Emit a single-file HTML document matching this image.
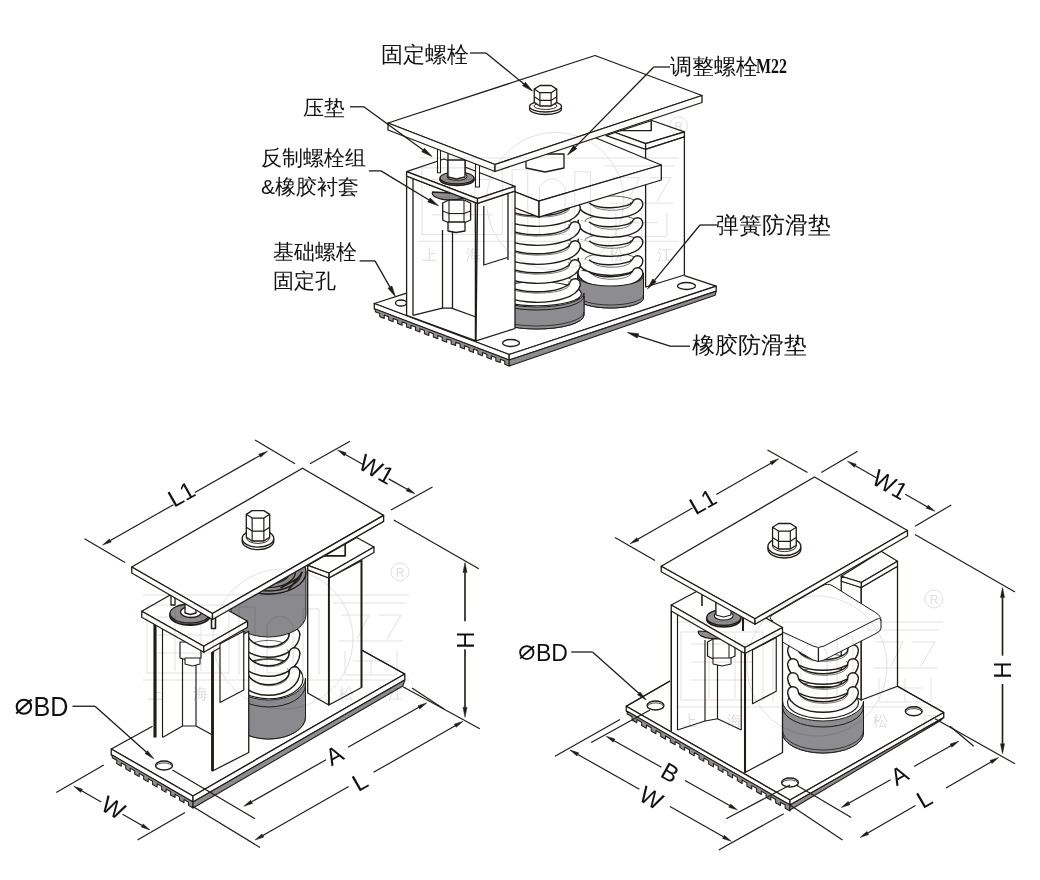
<!DOCTYPE html>
<html><head><meta charset="utf-8"><style>
html,body{margin:0;padding:0;background:#fff;}
svg{display:block;will-change:transform;}
</style></head><body>
<svg width="1040" height="880" viewBox="0 0 1040 880">
<rect width="1040" height="880" fill="#fff"/>
<polygon points="374.30,303.50 509.20,354.50 716.20,286.20 581.30,235.20" fill="#fff" stroke="none" stroke-width="1.30" stroke-linejoin="round" />
<polyline points="406.60,293.20 374.30,303.50 509.20,354.50 716.20,286.20 684.40,275.60" fill="none" stroke="#1f1b17" stroke-width="1.30" stroke-linejoin="round" />
<polygon points="374.30,303.50 509.20,354.50 509.20,360.00 374.30,309.00" fill="#fff" stroke="#1f1b17" stroke-width="1.30" stroke-linejoin="round" />
<polygon points="509.20,354.50 716.20,286.20 716.20,291.20 509.20,360.00" fill="#fff" stroke="#1f1b17" stroke-width="1.30" stroke-linejoin="round" />
<polygon points="375.30,309.00 509.20,360.00 509.20,366.00 509.20,366.00 504.74,364.30 504.74,361.00 500.27,359.30 500.27,362.60 495.81,360.90 495.81,357.60 491.35,355.90 491.35,359.20 486.88,357.50 486.88,354.20 482.42,352.50 482.42,355.80 477.96,354.10 477.96,350.80 473.49,349.10 473.49,352.40 469.03,350.70 469.03,347.40 464.57,345.70 464.57,349.00 460.10,347.30 460.10,344.00 455.64,342.30 455.64,345.60 451.18,343.90 451.18,340.60 446.71,338.90 446.71,342.20 442.25,340.50 442.25,337.20 437.79,335.50 437.79,338.80 433.32,337.10 433.32,333.80 428.86,332.10 428.86,335.40 424.40,333.70 424.40,330.40 419.93,328.70 419.93,332.00 415.47,330.30 415.47,327.00 411.01,325.30 411.01,328.60 406.54,326.90 406.54,323.60 402.08,321.90 402.08,325.20 397.62,323.50 397.62,320.20 393.15,318.50 393.15,321.80 388.69,320.10 388.69,316.80 384.23,315.10 384.23,318.40 379.76,316.70 379.76,313.40 375.30,311.70 375.30,311.70" fill="#8d8d91" stroke="#1f1b17" stroke-width="1.04" stroke-linejoin="round" />
<polygon points="509.20,360.00 716.20,291.20 715.20,295.20 509.20,366.00" fill="#8d8d91" stroke="#1f1b17" stroke-width="1.04" stroke-linejoin="round" />
<ellipse cx="401.00" cy="303.00" rx="5.50" ry="3.00" fill="#fff" stroke="#1f1b17" stroke-width="1.30"/>
<ellipse cx="511.00" cy="343.00" rx="8.50" ry="3.50" fill="#fff" stroke="#1f1b17" stroke-width="1.30"/>
<ellipse cx="686.50" cy="286.00" rx="9.00" ry="3.50" fill="#fff" stroke="#1f1b17" stroke-width="1.30"/>
<polygon points="615.00,132.50 645.60,143.70 684.40,131.90 651.90,120.50" fill="#fff" stroke="#1f1b17" stroke-width="1.30" stroke-linejoin="round" />
<polygon points="615.00,132.50 645.60,143.70 645.60,149.40 606.20,135.60" fill="#fff" stroke="#1f1b17" stroke-width="1.30" stroke-linejoin="round" />
<polygon points="645.60,143.70 684.40,131.90 684.40,136.90 645.60,149.40" fill="#fff" stroke="#1f1b17" stroke-width="1.30" stroke-linejoin="round" />
<polygon points="645.60,149.40 684.40,136.90 684.40,275.00 645.60,287.00" fill="#fff" stroke="#1f1b17" stroke-width="1.30" stroke-linejoin="round" />
<polyline points="620.00,130.60 651.25,130.60 651.25,120.60" fill="none" stroke="#1f1b17" stroke-width="1.43" stroke-linejoin="round" />
<path d="M577.5,273 L577.5,298 A33,10 0 0 0 643.5,298 L643.5,273 A33,10 0 0 1 577.5,273 Z" fill="#8d8d91" stroke="#1f1b17" stroke-width="1.0" stroke-linejoin="round" />
<ellipse cx="610.50" cy="273.75" rx="30.50" ry="8.00" fill="#fff" stroke="#1f1b17" stroke-width="1.17"/>
<path d="M584.5,203 A26,7.0 0 0 1 636.5,203" fill="none" stroke="#1f1b17" stroke-width="0.7" stroke-linejoin="round" />
<path d="M584.5,222 A26,7.0 0 0 1 636.5,222" fill="none" stroke="#1f1b17" stroke-width="0.7" stroke-linejoin="round" />
<path d="M584.5,241 A26,7.0 0 0 1 636.5,241" fill="none" stroke="#1f1b17" stroke-width="0.7" stroke-linejoin="round" />
<path d="M584.5,260 A26,7.0 0 0 1 636.5,260" fill="none" stroke="#1f1b17" stroke-width="0.7" stroke-linejoin="round" />
<path d="M584.5,272 A26,7.0 0 0 1 636.5,272" fill="none" stroke="#1f1b17" stroke-width="0.7" stroke-linejoin="round" />
<path d="M583.5,202 A27.0,10 0 0 0 637.5,204" fill="none" stroke="#1f1b17" stroke-width="12.0" stroke-linejoin="round" stroke-linecap="butt"/>
<circle cx="637.5" cy="204" r="6.0" fill="#1f1b17"/>
<path d="M583.5,202 A27.0,10 0 0 0 637.5,204" fill="none" stroke="#fff" stroke-width="9.2" stroke-linejoin="round" stroke-linecap="butt"/>
<circle cx="637.5" cy="204" r="4.6" fill="#fff"/>
<path d="M592.5,205.5 A18,6.0 0 0 0 630.5,202.0" fill="none" stroke="#1f1b17" stroke-width="0.6" stroke-linejoin="round" />
<path d="M583.5,221 A27.0,10 0 0 0 637.5,223" fill="none" stroke="#1f1b17" stroke-width="12.0" stroke-linejoin="round" stroke-linecap="butt"/>
<circle cx="637.5" cy="223" r="6.0" fill="#1f1b17"/>
<path d="M583.5,221 A27.0,10 0 0 0 637.5,223" fill="none" stroke="#fff" stroke-width="9.2" stroke-linejoin="round" stroke-linecap="butt"/>
<circle cx="637.5" cy="223" r="4.6" fill="#fff"/>
<path d="M592.5,224.5 A18,6.0 0 0 0 630.5,221.0" fill="none" stroke="#1f1b17" stroke-width="0.6" stroke-linejoin="round" />
<path d="M583.5,240 A27.0,10 0 0 0 637.5,242" fill="none" stroke="#1f1b17" stroke-width="12.0" stroke-linejoin="round" stroke-linecap="butt"/>
<circle cx="637.5" cy="242" r="6.0" fill="#1f1b17"/>
<path d="M583.5,240 A27.0,10 0 0 0 637.5,242" fill="none" stroke="#fff" stroke-width="9.2" stroke-linejoin="round" stroke-linecap="butt"/>
<circle cx="637.5" cy="242" r="4.6" fill="#fff"/>
<path d="M592.5,243.5 A18,6.0 0 0 0 630.5,240.0" fill="none" stroke="#1f1b17" stroke-width="0.6" stroke-linejoin="round" />
<path d="M583.5,259 A27.0,10 0 0 0 637.5,261" fill="none" stroke="#1f1b17" stroke-width="12.0" stroke-linejoin="round" stroke-linecap="butt"/>
<circle cx="637.5" cy="261" r="6.0" fill="#1f1b17"/>
<path d="M583.5,259 A27.0,10 0 0 0 637.5,261" fill="none" stroke="#fff" stroke-width="9.2" stroke-linejoin="round" stroke-linecap="butt"/>
<circle cx="637.5" cy="261" r="4.6" fill="#fff"/>
<path d="M592.5,262.5 A18,6.0 0 0 0 630.5,259.0" fill="none" stroke="#1f1b17" stroke-width="0.6" stroke-linejoin="round" />
<path d="M583.5,271 A27.0,10 0 0 0 637.5,273" fill="none" stroke="#1f1b17" stroke-width="12.0" stroke-linejoin="round" stroke-linecap="butt"/>
<circle cx="637.5" cy="273" r="6.0" fill="#1f1b17"/>
<path d="M583.5,271 A27.0,10 0 0 0 637.5,273" fill="none" stroke="#fff" stroke-width="9.2" stroke-linejoin="round" stroke-linecap="butt"/>
<circle cx="637.5" cy="273" r="4.6" fill="#fff"/>
<path d="M592.5,274.5 A18,6.0 0 0 0 630.5,271.0" fill="none" stroke="#1f1b17" stroke-width="0.6" stroke-linejoin="round" />
<path d="M577.5,276 A33,10 0 0 0 643.5,276 L643.5,298 A33,10 0 0 1 577.5,298 Z" fill="#8d8d91" stroke="#1f1b17" stroke-width="1.0" stroke-linejoin="round" />
<path d="M577.5,295 A33,10 0 0 0 643.5,295" fill="none" stroke="#1f1b17" stroke-width="0.8" stroke-linejoin="round" />
<path d="M490,293 L490,315 A47,14 0 0 0 584,315 L584,293 A47,14 0 0 1 490,293 Z" fill="#8d8d91" stroke="#1f1b17" stroke-width="1.0" stroke-linejoin="round" />
<ellipse cx="537.00" cy="293.75" rx="44.50" ry="12.00" fill="#fff" stroke="#1f1b17" stroke-width="1.17"/>
<path d="M500,207 A37,9.799999999999999 0 0 1 574,207" fill="none" stroke="#1f1b17" stroke-width="0.7" stroke-linejoin="round" />
<path d="M500,226 A37,9.799999999999999 0 0 1 574,226" fill="none" stroke="#1f1b17" stroke-width="0.7" stroke-linejoin="round" />
<path d="M500,245 A37,9.799999999999999 0 0 1 574,245" fill="none" stroke="#1f1b17" stroke-width="0.7" stroke-linejoin="round" />
<path d="M500,264 A37,9.799999999999999 0 0 1 574,264" fill="none" stroke="#1f1b17" stroke-width="0.7" stroke-linejoin="round" />
<path d="M500,283 A37,9.799999999999999 0 0 1 574,283" fill="none" stroke="#1f1b17" stroke-width="0.7" stroke-linejoin="round" />
<path d="M499.0,206 A38.0,14 0 0 0 575.0,208" fill="none" stroke="#1f1b17" stroke-width="12.0" stroke-linejoin="round" stroke-linecap="butt"/>
<circle cx="575.0" cy="208" r="6.0" fill="#1f1b17"/>
<path d="M499.0,206 A38.0,14 0 0 0 575.0,208" fill="none" stroke="#fff" stroke-width="9.2" stroke-linejoin="round" stroke-linecap="butt"/>
<circle cx="575.0" cy="208" r="4.6" fill="#fff"/>
<path d="M508,210.9 A29,8.4 0 0 0 568,205.2" fill="none" stroke="#1f1b17" stroke-width="0.6" stroke-linejoin="round" />
<path d="M499.0,225 A38.0,14 0 0 0 575.0,227" fill="none" stroke="#1f1b17" stroke-width="12.0" stroke-linejoin="round" stroke-linecap="butt"/>
<circle cx="575.0" cy="227" r="6.0" fill="#1f1b17"/>
<path d="M499.0,225 A38.0,14 0 0 0 575.0,227" fill="none" stroke="#fff" stroke-width="9.2" stroke-linejoin="round" stroke-linecap="butt"/>
<circle cx="575.0" cy="227" r="4.6" fill="#fff"/>
<path d="M508,229.9 A29,8.4 0 0 0 568,224.2" fill="none" stroke="#1f1b17" stroke-width="0.6" stroke-linejoin="round" />
<path d="M499.0,244 A38.0,14 0 0 0 575.0,246" fill="none" stroke="#1f1b17" stroke-width="12.0" stroke-linejoin="round" stroke-linecap="butt"/>
<circle cx="575.0" cy="246" r="6.0" fill="#1f1b17"/>
<path d="M499.0,244 A38.0,14 0 0 0 575.0,246" fill="none" stroke="#fff" stroke-width="9.2" stroke-linejoin="round" stroke-linecap="butt"/>
<circle cx="575.0" cy="246" r="4.6" fill="#fff"/>
<path d="M508,248.9 A29,8.4 0 0 0 568,243.2" fill="none" stroke="#1f1b17" stroke-width="0.6" stroke-linejoin="round" />
<path d="M499.0,263 A38.0,14 0 0 0 575.0,265" fill="none" stroke="#1f1b17" stroke-width="12.0" stroke-linejoin="round" stroke-linecap="butt"/>
<circle cx="575.0" cy="265" r="6.0" fill="#1f1b17"/>
<path d="M499.0,263 A38.0,14 0 0 0 575.0,265" fill="none" stroke="#fff" stroke-width="9.2" stroke-linejoin="round" stroke-linecap="butt"/>
<circle cx="575.0" cy="265" r="4.6" fill="#fff"/>
<path d="M508,267.9 A29,8.4 0 0 0 568,262.2" fill="none" stroke="#1f1b17" stroke-width="0.6" stroke-linejoin="round" />
<path d="M499.0,282 A38.0,14 0 0 0 575.0,284" fill="none" stroke="#1f1b17" stroke-width="12.0" stroke-linejoin="round" stroke-linecap="butt"/>
<circle cx="575.0" cy="284" r="6.0" fill="#1f1b17"/>
<path d="M499.0,282 A38.0,14 0 0 0 575.0,284" fill="none" stroke="#fff" stroke-width="9.2" stroke-linejoin="round" stroke-linecap="butt"/>
<circle cx="575.0" cy="284" r="4.6" fill="#fff"/>
<path d="M508,286.9 A29,8.4 0 0 0 568,281.2" fill="none" stroke="#1f1b17" stroke-width="0.6" stroke-linejoin="round" />
<path d="M490,296 A47,14 0 0 0 584,296 L584,315 A47,14 0 0 1 490,315 Z" fill="#8d8d91" stroke="#1f1b17" stroke-width="1.0" stroke-linejoin="round" />
<path d="M490,312 A47,14 0 0 0 584,312" fill="none" stroke="#1f1b17" stroke-width="0.8" stroke-linejoin="round" />
<polygon points="500.00,186.00 538.80,201.20 661.30,165.00 596.00,138.00 540.00,117.00" fill="#fff" stroke="none" stroke-width="1.30" stroke-linejoin="round" />
<polyline points="500.00,186.00 538.80,201.20 661.30,165.00 596.00,138.00" fill="none" stroke="#1f1b17" stroke-width="1.30" stroke-linejoin="round" />
<polygon points="538.80,201.20 661.30,165.00 661.30,180.00 538.80,217.20" fill="#fff" stroke="#1f1b17" stroke-width="1.30" stroke-linejoin="round" />
<polygon points="500.00,186.00 538.80,201.20 538.80,217.20 500.00,202.00" fill="#fff" stroke="#1f1b17" stroke-width="1.30" stroke-linejoin="round" />
<polygon points="526.00,154.00 564.00,154.00 564.00,168.00 545.00,172.00 526.00,168.00" fill="#fff" stroke="#1f1b17" stroke-width="1.30" stroke-linejoin="round" />
<polygon points="406.60,176.00 477.50,203.40 476.00,340.80 406.60,315.40" fill="#fff" stroke="#1f1b17" stroke-width="1.30" stroke-linejoin="round" />
<polygon points="477.50,203.40 515.00,191.00 515.00,328.50 476.00,340.80" fill="#fff" stroke="#1f1b17" stroke-width="1.30" stroke-linejoin="round" />
<line x1="413.00" y1="178.00" x2="413.00" y2="315.40" stroke="#1f1b17" stroke-width="1.30"/>
<line x1="475.40" y1="202.60" x2="475.40" y2="340.00" stroke="#1f1b17" stroke-width="1.30"/>
<polyline points="413.00,315.40 442.30,308.20 451.50,308.20 476.00,317.00" fill="none" stroke="#1f1b17" stroke-width="1.30" stroke-linejoin="round" />
<line x1="442.50" y1="230.00" x2="442.50" y2="308.20" stroke="#1f1b17" stroke-width="1.30"/>
<line x1="452.50" y1="230.00" x2="452.50" y2="308.20" stroke="#1f1b17" stroke-width="1.30"/>
<line x1="508.00" y1="193.50" x2="508.00" y2="260.00" stroke="#1f1b17" stroke-width="1.30"/>
<polyline points="483.80,206.00 483.80,265.00 507.50,257.50" fill="none" stroke="#1f1b17" stroke-width="1.30" stroke-linejoin="round" />
<path d="M432.5,192 A18,7 0 0 0 468.5,194 Z" fill="#8e8e92" stroke="#1f1b17" stroke-width="1.3" stroke-linejoin="round" />
<polygon points="442.70,203.00 449.00,200.00 464.00,200.00 470.60,203.00 470.60,220.00 464.00,223.00 449.00,223.00 442.70,220.00" fill="#fff" stroke="#1f1b17" stroke-width="1.30" stroke-linejoin="round" />
<line x1="449.00" y1="200.00" x2="449.00" y2="223.00" stroke="#1f1b17" stroke-width="1.04"/>
<line x1="464.00" y1="200.00" x2="464.00" y2="223.00" stroke="#1f1b17" stroke-width="1.04"/>
<polyline points="442.70,211.00 449.00,213.50 464.00,213.50 470.60,211.00" fill="none" stroke="#1f1b17" stroke-width="1.04" stroke-linejoin="round" />
<polygon points="448.00,222.00 465.00,222.00 465.00,231.00 456.00,232.50 448.00,231.00" fill="#fff" stroke="#1f1b17" stroke-width="1.30" stroke-linejoin="round" />
<polygon points="406.60,171.60 477.50,198.60 515.00,186.30 444.00,159.00" fill="#fff" stroke="#1f1b17" stroke-width="1.30" stroke-linejoin="round" />
<polygon points="406.60,171.60 477.50,198.60 477.50,203.40 406.60,176.10" fill="#fff" stroke="#1f1b17" stroke-width="1.30" stroke-linejoin="round" />
<polygon points="477.50,198.60 515.00,186.30 515.00,191.10 477.50,203.40" fill="#fff" stroke="#1f1b17" stroke-width="1.30" stroke-linejoin="round" />
<polygon points="448.00,150.00 465.00,150.00 465.00,178.00 448.00,178.00" fill="#fff" stroke="#1f1b17" stroke-width="1.30" stroke-linejoin="round" />
<ellipse cx="457.00" cy="179.50" rx="17.00" ry="6.00" fill="#8e8e92" stroke="#1f1b17" stroke-width="1.69"/>
<ellipse cx="457.00" cy="178.00" rx="17.00" ry="6.00" fill="#8e8e92" stroke="#1f1b17" stroke-width="1.30"/>
<ellipse cx="457.00" cy="176.50" rx="10.00" ry="3.80" fill="#fff" stroke="#1f1b17" stroke-width="1.04"/>
<polygon points="448.00,160.00 465.00,160.00 465.00,177.00 456.50,179.00 448.00,177.00" fill="#fff" stroke="#1f1b17" stroke-width="1.30" stroke-linejoin="round" />
<polygon points="437.50,148.00 440.50,148.00 440.50,172.70 437.50,172.70" fill="#fff" stroke="#1f1b17" stroke-width="1.04" stroke-linejoin="round" />
<polygon points="475.50,160.00 479.50,160.00 479.50,187.00 475.50,187.00" fill="#fff" stroke="#1f1b17" stroke-width="1.04" stroke-linejoin="round" />
<polygon points="388.00,123.00 495.00,164.50 702.00,95.50 595.00,55.50" fill="#fff" stroke="#1f1b17" stroke-width="1.30" stroke-linejoin="round" />
<polygon points="388.00,123.00 495.00,164.50 495.00,171.50 388.00,130.00" fill="#fff" stroke="#1f1b17" stroke-width="1.30" stroke-linejoin="round" />
<polygon points="495.00,164.50 702.00,95.50 702.00,102.50 495.00,171.50" fill="#fff" stroke="#1f1b17" stroke-width="1.30" stroke-linejoin="round" />
<ellipse cx="545.50" cy="109.00" rx="16.00" ry="5.50" fill="#fff" stroke="#1f1b17" stroke-width="1.30"/>
<ellipse cx="545.50" cy="106.50" rx="16.00" ry="5.50" fill="#fff" stroke="#1f1b17" stroke-width="1.30"/>
<ellipse cx="545.50" cy="106.00" rx="11.52" ry="3.41" fill="#fff" stroke="#1f1b17" stroke-width="0.91"/>
<polygon points="534.25,89.10 539.88,85.50 551.12,85.50 556.75,89.10 556.75,102.40 551.12,106.00 539.88,106.00 534.25,102.40" fill="#fff" stroke="#1f1b17" stroke-width="1.30" stroke-linejoin="round" />
<polyline points="534.25,89.10 539.88,92.70 551.12,92.70 556.75,89.10" fill="none" stroke="#1f1b17" stroke-width="1.17" stroke-linejoin="round" />
<line x1="539.88" y1="92.70" x2="539.88" y2="106.00" stroke="#1f1b17" stroke-width="1.17"/>
<line x1="551.12" y1="92.70" x2="551.12" y2="106.00" stroke="#1f1b17" stroke-width="1.17"/>
<polyline points="534.25,96.78 539.88,100.38 551.12,100.38 556.75,96.78" fill="none" stroke="#1f1b17" stroke-width="1.17" stroke-linejoin="round" />
<text x="381" y="62" font-size="21.5" text-anchor="start" font-family="'Liberation Sans', sans-serif" fill="#111" stroke="#fff" stroke-width="0" >固定螺栓</text>
<polyline points="470.00,53.00 486.00,53.00" fill="none" stroke="#1f1b17" stroke-width="1.30" stroke-linejoin="round" />
<line x1="486.00" y1="53.00" x2="523.98" y2="84.04" stroke="#1f1b17" stroke-width="1.30"/>
<polygon points="532.50,91.00 522.59,85.74 525.37,82.34" fill="#1f1b17" stroke="#1f1b17" stroke-width="0.65" stroke-linejoin="round" />
<text x="302.5" y="114.5" font-size="21" text-anchor="start" font-family="'Liberation Sans', sans-serif" fill="#111" stroke="#fff" stroke-width="0" >压垫</text>
<polyline points="350.00,106.80 363.80,106.80" fill="none" stroke="#1f1b17" stroke-width="1.30" stroke-linejoin="round" />
<line x1="363.80" y1="106.80" x2="423.11" y2="150.02" stroke="#1f1b17" stroke-width="1.30"/>
<polygon points="432.00,156.50 421.81,151.80 424.41,148.24" fill="#1f1b17" stroke="#1f1b17" stroke-width="0.65" stroke-linejoin="round" />
<text x="261" y="164.5" font-size="21" text-anchor="start" font-family="'Liberation Sans', sans-serif" fill="#111" stroke="#fff" stroke-width="0" >反制螺栓组</text>
<text x="261" y="193.5" font-size="21" text-anchor="start" font-family="'Liberation Sans', sans-serif" fill="#111" stroke="#fff" stroke-width="0" >&amp;橡胶衬套</text>
<polyline points="368.80,170.90 381.00,170.90" fill="none" stroke="#1f1b17" stroke-width="1.30" stroke-linejoin="round" />
<line x1="381.00" y1="170.90" x2="428.99" y2="200.00" stroke="#1f1b17" stroke-width="1.30"/>
<polygon points="438.40,205.70 427.85,201.88 430.13,198.12" fill="#1f1b17" stroke="#1f1b17" stroke-width="0.65" stroke-linejoin="round" />
<text x="272.7" y="259" font-size="21" text-anchor="start" font-family="'Liberation Sans', sans-serif" fill="#111" stroke="#fff" stroke-width="0" >基础螺栓</text>
<text x="272.7" y="287.5" font-size="21" text-anchor="start" font-family="'Liberation Sans', sans-serif" fill="#111" stroke="#fff" stroke-width="0" >固定孔</text>
<polyline points="359.60,260.90 375.00,260.90" fill="none" stroke="#1f1b17" stroke-width="1.30" stroke-linejoin="round" />
<line x1="375.00" y1="260.90" x2="389.95" y2="287.14" stroke="#1f1b17" stroke-width="1.30"/>
<polygon points="395.40,296.70 388.04,288.23 391.87,286.05" fill="#1f1b17" stroke="#1f1b17" stroke-width="0.65" stroke-linejoin="round" />
<text x="670" y="73.5" font-size="21.5" text-anchor="start" font-family="'Liberation Sans', sans-serif" fill="#111" stroke="#fff" stroke-width="0" >调整螺栓</text>
<text x="756" y="72.5" font-size="21" font-weight="bold" fill="#111" font-family="'Liberation Serif', serif" textLength="31" lengthAdjust="spacingAndGlyphs">M22</text>
<polyline points="670.00,67.00 653.80,67.00" fill="none" stroke="#1f1b17" stroke-width="1.30" stroke-linejoin="round" />
<line x1="653.80" y1="67.00" x2="575.20" y2="147.15" stroke="#1f1b17" stroke-width="1.30"/>
<polygon points="567.50,155.00 573.63,145.61 576.77,148.69" fill="#1f1b17" stroke="#1f1b17" stroke-width="0.65" stroke-linejoin="round" />
<text x="716" y="232.5" font-size="22.5" text-anchor="start" font-family="'Liberation Sans', sans-serif" fill="#111" stroke="#fff" stroke-width="0" >弹簧防滑垫</text>
<polyline points="717.00,225.00 700.00,225.00" fill="none" stroke="#1f1b17" stroke-width="1.30" stroke-linejoin="round" />
<line x1="700.00" y1="225.00" x2="654.49" y2="280.31" stroke="#1f1b17" stroke-width="1.30"/>
<polygon points="647.50,288.80 652.79,278.91 656.19,281.70" fill="#1f1b17" stroke="#1f1b17" stroke-width="0.65" stroke-linejoin="round" />
<text x="691.5" y="353" font-size="22.5" text-anchor="start" font-family="'Liberation Sans', sans-serif" fill="#111" stroke="#fff" stroke-width="0" >橡胶防滑垫</text>
<polyline points="690.00,346.20 670.00,346.20" fill="none" stroke="#1f1b17" stroke-width="1.30" stroke-linejoin="round" />
<line x1="670.00" y1="346.20" x2="637.97" y2="335.87" stroke="#1f1b17" stroke-width="1.30"/>
<polygon points="627.50,332.50 638.64,333.78 637.29,337.97" fill="#1f1b17" stroke="#1f1b17" stroke-width="0.65" stroke-linejoin="round" />
<polygon points="111.25,749.00 193.00,796.00 404.80,674.00 323.05,627.00" fill="#fff" stroke="none" stroke-width="1.30" stroke-linejoin="round" />
<polyline points="152.50,726.25 111.25,749.00 193.00,796.00 404.80,674.00 361.50,650.00" fill="none" stroke="#1f1b17" stroke-width="1.30" stroke-linejoin="round" />
<polygon points="111.25,749.00 193.00,796.00 193.00,802.00 111.25,755.00" fill="#fff" stroke="#1f1b17" stroke-width="1.30" stroke-linejoin="round" />
<polygon points="193.00,796.00 404.80,674.00 404.80,680.00 193.00,802.00" fill="#fff" stroke="#1f1b17" stroke-width="1.30" stroke-linejoin="round" />
<polygon points="112.25,755.00 193.00,802.00 193.00,808.00 193.00,808.00 188.51,805.39 188.51,802.09 184.03,799.48 184.03,802.78 179.54,800.17 179.54,796.87 175.06,794.26 175.06,797.56 170.57,794.94 170.57,791.64 166.08,789.03 166.08,792.33 161.60,789.72 161.60,786.42 157.11,783.81 157.11,787.11 152.62,784.50 152.62,781.20 148.14,778.59 148.14,781.89 143.65,779.28 143.65,775.98 139.17,773.37 139.17,776.67 134.68,774.06 134.68,770.76 130.19,768.14 130.19,771.44 125.71,768.83 125.71,765.53 121.22,762.92 121.22,766.22 116.74,763.61 116.74,760.31 112.25,757.70 112.25,757.70" fill="#8d8d91" stroke="#1f1b17" stroke-width="1.04" stroke-linejoin="round" />
<polygon points="193.00,802.00 404.80,680.00 402.80,686.00 193.00,808.00" fill="#8d8d91" stroke="#1f1b17" stroke-width="1.04" stroke-linejoin="round" />
<ellipse cx="164.00" cy="765.50" rx="8.50" ry="4.50" fill="#fff" stroke="#1f1b17" stroke-width="1.30"/>
<path d="M156,766.5 A8,3.6 0 0 1 172,766.5" fill="none" stroke="#1f1b17" stroke-width="0.8" stroke-linejoin="round" />
<polygon points="307.70,570.00 328.85,578.00 328.85,705.00 307.70,693.00" fill="#fff" stroke="#1f1b17" stroke-width="1.30" stroke-linejoin="round" />
<polygon points="328.85,578.00 361.50,560.60 361.50,687.50 328.85,705.00" fill="#fff" stroke="#1f1b17" stroke-width="1.30" stroke-linejoin="round" />
<line x1="328.85" y1="578.00" x2="328.85" y2="705.00" stroke="#1f1b17" stroke-width="1.82"/>
<line x1="361.50" y1="556.00" x2="361.50" y2="687.50" stroke="#1f1b17" stroke-width="1.82"/>
<line x1="361.50" y1="650.00" x2="404.80" y2="674.00" stroke="#1f1b17" stroke-width="1.17"/>
<polygon points="307.70,565.40 328.85,573.00 374.00,547.00 356.70,537.50" fill="#fff" stroke="#1f1b17" stroke-width="1.30" stroke-linejoin="round" />
<polygon points="328.85,573.00 374.00,547.00 374.00,552.50 328.85,578.00" fill="#fff" stroke="#1f1b17" stroke-width="1.30" stroke-linejoin="round" />
<polygon points="307.70,565.40 328.85,573.00 328.85,578.00 307.70,569.90" fill="#fff" stroke="#1f1b17" stroke-width="1.30" stroke-linejoin="round" />
<polyline points="323.00,555.80 345.20,555.80 345.20,543.30" fill="none" stroke="#1f1b17" stroke-width="1.69" stroke-linejoin="round" />
<clipPath id="clipBL"><rect x="213" y="500" width="120" height="260"/></clipPath><g clip-path="url(#clipBL)">
<path d="M231.5,678 L231.5,717 A37,22 0 0 0 305.5,717 L305.5,678 A37,22 0 0 1 231.5,678 Z" fill="#8a8a8e" stroke="#1f1b17" stroke-width="1.0" stroke-linejoin="round" />
<ellipse cx="268.50" cy="678.75" rx="34.50" ry="20.00" fill="#fff" stroke="#1f1b17" stroke-width="1.17"/>
<path d="M243.5,634 A25,12.6 0 0 1 293.5,634" fill="none" stroke="#1f1b17" stroke-width="0.7" stroke-linejoin="round" />
<path d="M243.5,653 A25,12.6 0 0 1 293.5,653" fill="none" stroke="#1f1b17" stroke-width="0.7" stroke-linejoin="round" />
<path d="M243.5,672 A25,12.6 0 0 1 293.5,672" fill="none" stroke="#1f1b17" stroke-width="0.7" stroke-linejoin="round" />
<path d="M242.5,634 A26.0,18 0 0 0 294.5,634" fill="none" stroke="#1f1b17" stroke-width="12.0" stroke-linejoin="round" stroke-linecap="butt"/>
<circle cx="294.5" cy="634" r="6.0" fill="#1f1b17"/>
<path d="M242.5,634 A26.0,18 0 0 0 294.5,634" fill="none" stroke="#fff" stroke-width="9.2" stroke-linejoin="round" stroke-linecap="butt"/>
<circle cx="294.5" cy="634" r="4.6" fill="#fff"/>
<path d="M251.5,640.3 A17,10.799999999999999 0 0 0 287.5,630.4" fill="none" stroke="#1f1b17" stroke-width="0.6" stroke-linejoin="round" />
<path d="M242.5,653 A26.0,18 0 0 0 294.5,653" fill="none" stroke="#1f1b17" stroke-width="12.0" stroke-linejoin="round" stroke-linecap="butt"/>
<circle cx="294.5" cy="653" r="6.0" fill="#1f1b17"/>
<path d="M242.5,653 A26.0,18 0 0 0 294.5,653" fill="none" stroke="#fff" stroke-width="9.2" stroke-linejoin="round" stroke-linecap="butt"/>
<circle cx="294.5" cy="653" r="4.6" fill="#fff"/>
<path d="M251.5,659.3 A17,10.799999999999999 0 0 0 287.5,649.4" fill="none" stroke="#1f1b17" stroke-width="0.6" stroke-linejoin="round" />
<path d="M242.5,672 A26.0,18 0 0 0 294.5,672" fill="none" stroke="#1f1b17" stroke-width="12.0" stroke-linejoin="round" stroke-linecap="butt"/>
<circle cx="294.5" cy="672" r="6.0" fill="#1f1b17"/>
<path d="M242.5,672 A26.0,18 0 0 0 294.5,672" fill="none" stroke="#fff" stroke-width="9.2" stroke-linejoin="round" stroke-linecap="butt"/>
<circle cx="294.5" cy="672" r="4.6" fill="#fff"/>
<path d="M251.5,678.3 A17,10.799999999999999 0 0 0 287.5,668.4" fill="none" stroke="#1f1b17" stroke-width="0.6" stroke-linejoin="round" />
<path d="M231.5,685 A37,22 0 0 0 305.5,685 L305.5,717 A37,22 0 0 1 231.5,717 Z" fill="#8a8a8e" stroke="#1f1b17" stroke-width="1.0" stroke-linejoin="round" />
<path d="M231.0,572 L231.0,615 A37.5,22 0 0 0 306.0,615 L306.0,572 A37.5,22 0 0 1 231.0,572 Z" fill="#8a8a8e" stroke="#1f1b17" stroke-width="1.0" stroke-linejoin="round" />
<ellipse cx="268.50" cy="572.00" rx="37.50" ry="22.00" fill="#8a8a8e" stroke="#1f1b17" stroke-width="1.30"/>
<path d="M235.5,572 A33,19 0 0 0 301.5,572" fill="none" stroke="#1f1b17" stroke-width="1.3" stroke-linejoin="round" />
<path d="M241.5,572 A27,15.5 0 0 0 295.5,572" fill="none" stroke="#1f1b17" stroke-width="1.3" stroke-linejoin="round" />
<path d="M247.5,572 A21,12 0 0 0 289.5,572" fill="none" stroke="#1f1b17" stroke-width="1.3" stroke-linejoin="round" />
<path d="M253.5,572 A15,8.5 0 0 0 283.5,572" fill="none" stroke="#1f1b17" stroke-width="1.3" stroke-linejoin="round" />
<line x1="280.50" y1="588.00" x2="298.50" y2="578.00" stroke="#1f1b17" stroke-width="1.56"/>
<line x1="288.50" y1="590.00" x2="302.50" y2="572.00" stroke="#1f1b17" stroke-width="1.56"/>
</g>
<polygon points="212.50,652.00 248.75,631.25 248.75,752.50 212.50,771.00" fill="#fff" stroke="#1f1b17" stroke-width="1.30" stroke-linejoin="round" />
<line x1="212.50" y1="652.00" x2="212.50" y2="771.00" stroke="#1f1b17" stroke-width="2.86"/>
<polygon points="220.00,643.75 243.75,631.25 243.75,690.00 220.00,702.50" fill="#fff" stroke="#1f1b17" stroke-width="1.17" stroke-linejoin="round" />
<line x1="155.00" y1="617.00" x2="155.00" y2="737.50" stroke="#1f1b17" stroke-width="3.12"/>
<line x1="162.50" y1="620.00" x2="162.50" y2="737.00" stroke="#1f1b17" stroke-width="1.17"/>
<line x1="182.50" y1="652.00" x2="182.50" y2="726.00" stroke="#1f1b17" stroke-width="1.17"/>
<line x1="196.00" y1="652.00" x2="196.00" y2="726.00" stroke="#1f1b17" stroke-width="1.17"/>
<polyline points="162.50,737.50 182.50,726.00 196.00,726.00 212.50,735.00" fill="none" stroke="#1f1b17" stroke-width="1.17" stroke-linejoin="round" />
<polygon points="180.00,642.00 201.00,642.00 201.00,658.00 190.50,661.00 180.00,658.00" fill="#fff" stroke="#1f1b17" stroke-width="1.17" stroke-linejoin="round" />
<polygon points="185.00,658.00 200.00,658.00 200.00,664.00 192.50,666.00 185.00,664.00" fill="#fff" stroke="#1f1b17" stroke-width="1.04" stroke-linejoin="round" />
<polygon points="141.75,611.25 203.75,646.25 247.50,621.25 185.50,586.25" fill="#fff" stroke="#1f1b17" stroke-width="1.30" stroke-linejoin="round" />
<polygon points="141.75,611.25 203.75,646.25 203.75,652.25 141.75,617.25" fill="#fff" stroke="#1f1b17" stroke-width="1.30" stroke-linejoin="round" />
<polygon points="203.75,646.25 247.50,621.25 247.50,627.25 203.75,652.25" fill="#fff" stroke="#1f1b17" stroke-width="1.30" stroke-linejoin="round" />
<ellipse cx="190.00" cy="615.50" rx="20.00" ry="9.50" fill="#8e8e92" stroke="#1f1b17" stroke-width="1.82"/>
<ellipse cx="190.00" cy="613.50" rx="20.00" ry="9.50" fill="#8e8e92" stroke="#1f1b17" stroke-width="1.30"/>
<ellipse cx="191.00" cy="612.00" rx="10.50" ry="5.50" fill="#fff" stroke="#1f1b17" stroke-width="1.30"/>
<polygon points="185.00,600.00 196.00,600.00 196.00,613.00 190.50,614.50 185.00,613.00" fill="#fff" stroke="#1f1b17" stroke-width="1.30" stroke-linejoin="round" />
<polygon points="171.00,594.00 175.00,594.00 175.00,605.00 171.00,605.00" fill="#fff" stroke="#1f1b17" stroke-width="1.30" stroke-linejoin="round" />
<polygon points="211.50,612.00 215.50,612.00 215.50,628.50 211.50,628.50" fill="#fff" stroke="#1f1b17" stroke-width="1.56" stroke-linejoin="round" />
<polygon points="131.75,567.00 212.50,613.50 383.65,515.40 302.50,468.25" fill="#fff" stroke="#1f1b17" stroke-width="1.30" stroke-linejoin="round" />
<polygon points="131.75,567.00 212.50,613.50 212.50,619.50 131.75,573.00" fill="#fff" stroke="#1f1b17" stroke-width="1.30" stroke-linejoin="round" />
<polygon points="212.50,613.50 383.65,515.40 383.65,521.40 212.50,619.50" fill="#fff" stroke="#1f1b17" stroke-width="1.30" stroke-linejoin="round" />
<ellipse cx="258.00" cy="541.00" rx="15.80" ry="8.70" fill="#fff" stroke="#1f1b17" stroke-width="1.30"/>
<ellipse cx="258.00" cy="538.50" rx="15.80" ry="8.70" fill="#fff" stroke="#1f1b17" stroke-width="1.30"/>
<ellipse cx="258.00" cy="538.00" rx="11.38" ry="5.39" fill="#fff" stroke="#1f1b17" stroke-width="0.91"/>
<polygon points="246.30,514.34 252.15,510.60 263.85,510.60 269.70,514.34 269.70,537.26 263.85,541.00 252.15,541.00 246.30,537.26" fill="#fff" stroke="#1f1b17" stroke-width="1.30" stroke-linejoin="round" />
<polyline points="246.30,514.34 252.15,518.09 263.85,518.09 269.70,514.34" fill="none" stroke="#1f1b17" stroke-width="1.17" stroke-linejoin="round" />
<line x1="252.15" y1="518.09" x2="252.15" y2="541.00" stroke="#1f1b17" stroke-width="1.17"/>
<line x1="263.85" y1="518.09" x2="263.85" y2="541.00" stroke="#1f1b17" stroke-width="1.17"/>
<polyline points="246.30,527.32 252.15,531.06 263.85,531.06 269.70,527.32" fill="none" stroke="#1f1b17" stroke-width="1.17" stroke-linejoin="round" />
<line x1="84.50" y1="538.75" x2="125.00" y2="562.50" stroke="#1f1b17" stroke-width="1.17"/>
<line x1="255.00" y1="440.00" x2="295.00" y2="463.75" stroke="#1f1b17" stroke-width="1.17"/>
<line x1="110.33" y1="540.55" x2="173.45" y2="504.69" stroke="#1f1b17" stroke-width="1.17"/>
<line x1="194.90" y1="492.50" x2="259.67" y2="455.70" stroke="#1f1b17" stroke-width="1.17"/>
<polygon points="102.50,545.00 111.21,542.12 109.44,538.99" fill="#1f1b17" stroke="#1f1b17" stroke-width="0.52" stroke-linejoin="round" />
<polygon points="267.50,451.25 260.56,457.26 258.79,454.13" fill="#1f1b17" stroke="#1f1b17" stroke-width="0.52" stroke-linejoin="round" />
<text x="0" y="0" font-size="24" text-anchor="middle" font-family="'Liberation Sans', sans-serif" fill="#111" stroke="#fff" stroke-width="0" transform="translate(185.5,501.5) rotate(-29.6)">L1</text>
<line x1="310.00" y1="463.75" x2="350.00" y2="441.25" stroke="#1f1b17" stroke-width="1.17"/>
<line x1="391.00" y1="510.00" x2="432.50" y2="487.00" stroke="#1f1b17" stroke-width="1.17"/>
<line x1="345.34" y1="454.42" x2="363.07" y2="464.44" stroke="#1f1b17" stroke-width="1.17"/>
<line x1="388.65" y1="478.88" x2="407.16" y2="489.33" stroke="#1f1b17" stroke-width="1.17"/>
<polygon points="337.50,450.00 344.45,455.99 346.22,452.86" fill="#1f1b17" stroke="#1f1b17" stroke-width="0.52" stroke-linejoin="round" />
<polygon points="415.00,493.75 406.28,490.89 408.05,487.76" fill="#1f1b17" stroke="#1f1b17" stroke-width="0.52" stroke-linejoin="round" />
<text x="0" y="0" font-size="24" text-anchor="middle" font-family="'Liberation Sans', sans-serif" fill="#111" stroke="#fff" stroke-width="0" transform="translate(372.5,476.5) rotate(29.5)">W1</text>
<line x1="393.75" y1="520.00" x2="478.75" y2="568.75" stroke="#1f1b17" stroke-width="1.17"/>
<line x1="403.00" y1="686.70" x2="479.80" y2="728.80" stroke="#1f1b17" stroke-width="1.17"/>
<line x1="465.00" y1="572.50" x2="465.00" y2="621.32" stroke="#1f1b17" stroke-width="1.62"/>
<line x1="465.00" y1="649.19" x2="465.00" y2="707.30" stroke="#1f1b17" stroke-width="1.62"/>
<polygon points="465.00,562.50 463.00,572.50 467.00,572.50" fill="#1f1b17" stroke="#1f1b17" stroke-width="0.52" stroke-linejoin="round" />
<polygon points="465.00,717.30 463.00,707.30 467.00,707.30" fill="#1f1b17" stroke="#1f1b17" stroke-width="0.52" stroke-linejoin="round" />
<text x="0" y="0" font-size="24" text-anchor="middle" font-family="'Liberation Sans', sans-serif" fill="#111" stroke="#fff" stroke-width="0" transform="translate(473.5,640) rotate(-90)">H</text>
<line x1="412.00" y1="688.00" x2="444.00" y2="709.00" stroke="#1f1b17" stroke-width="1.17"/>
<line x1="251.59" y1="801.82" x2="326.08" y2="759.74" stroke="#1f1b17" stroke-width="1.17"/>
<line x1="348.03" y1="747.34" x2="418.86" y2="707.33" stroke="#1f1b17" stroke-width="1.17"/>
<polygon points="243.75,806.25 252.47,803.39 250.70,800.26" fill="#1f1b17" stroke="#1f1b17" stroke-width="0.52" stroke-linejoin="round" />
<polygon points="426.70,702.90 419.75,708.89 417.98,705.76" fill="#1f1b17" stroke="#1f1b17" stroke-width="0.52" stroke-linejoin="round" />
<text x="0" y="0" font-size="24" text-anchor="middle" font-family="'Liberation Sans', sans-serif" fill="#111" stroke="#fff" stroke-width="0" transform="translate(338.5,762.5) rotate(-29.5)">A</text>
<line x1="262.82" y1="835.54" x2="348.60" y2="786.59" stroke="#1f1b17" stroke-width="1.17"/>
<line x1="373.56" y1="772.34" x2="455.18" y2="725.76" stroke="#1f1b17" stroke-width="1.17"/>
<polygon points="255.00,840.00 263.71,837.10 261.92,833.98" fill="#1f1b17" stroke="#1f1b17" stroke-width="0.52" stroke-linejoin="round" />
<polygon points="463.00,721.30 456.08,727.32 454.29,724.20" fill="#1f1b17" stroke="#1f1b17" stroke-width="0.52" stroke-linejoin="round" />
<text x="0" y="0" font-size="24" text-anchor="middle" font-family="'Liberation Sans', sans-serif" fill="#111" stroke="#fff" stroke-width="0" transform="translate(364,789) rotate(-29.7)">L</text>
<line x1="192.00" y1="806.00" x2="260.00" y2="847.50" stroke="#1f1b17" stroke-width="1.17"/>
<line x1="172.50" y1="770.00" x2="255.00" y2="818.75" stroke="#1f1b17" stroke-width="1.17"/>
<line x1="56.25" y1="792.50" x2="103.75" y2="765.00" stroke="#1f1b17" stroke-width="1.17"/>
<line x1="137.50" y1="840.00" x2="185.00" y2="812.50" stroke="#1f1b17" stroke-width="1.17"/>
<line x1="81.56" y1="790.73" x2="101.20" y2="802.00" stroke="#1f1b17" stroke-width="1.17"/>
<line x1="122.55" y1="814.25" x2="142.19" y2="825.52" stroke="#1f1b17" stroke-width="1.17"/>
<polygon points="73.75,786.25 80.66,792.29 82.45,789.17" fill="#1f1b17" stroke="#1f1b17" stroke-width="0.52" stroke-linejoin="round" />
<polygon points="150.00,830.00 141.30,827.08 143.09,823.96" fill="#1f1b17" stroke="#1f1b17" stroke-width="0.52" stroke-linejoin="round" />
<text x="0" y="0" font-size="24" text-anchor="middle" font-family="'Liberation Sans', sans-serif" fill="#111" stroke="#fff" stroke-width="0" transform="translate(109,815) rotate(30)">W</text>
<ellipse cx="23.90" cy="706.80" rx="7.20" ry="7.00" fill="none" stroke="#111" stroke-width="2.08"/>
<line x1="16.25" y1="713.50" x2="31.60" y2="699.60" stroke="#111" stroke-width="2.08"/>
<text x="33.5" y="716.4" font-size="28" text-anchor="start" font-family="'Liberation Sans', sans-serif" fill="#111" stroke="#fff" stroke-width="0" textLength="35" lengthAdjust="spacingAndGlyphs">BD</text>
<polyline points="72.50,706.25 95.00,706.25" fill="none" stroke="#1f1b17" stroke-width="1.30" stroke-linejoin="round" />
<line x1="95.00" y1="706.25" x2="146.29" y2="752.09" stroke="#1f1b17" stroke-width="1.30"/>
<polygon points="153.75,758.75 145.09,753.43 147.49,750.74" fill="#1f1b17" stroke="#1f1b17" stroke-width="0.65" stroke-linejoin="round" />
<polygon points="626.25,706.25 790.00,800.00 943.75,712.50 780.00,618.75" fill="#fff" stroke="none" stroke-width="1.30" stroke-linejoin="round" />
<polyline points="670.00,681.00 626.25,706.25 790.00,800.00 943.75,712.50 897.50,686.25" fill="none" stroke="#1f1b17" stroke-width="1.30" stroke-linejoin="round" />
<polygon points="626.25,706.25 790.00,800.00 790.00,805.00 626.25,711.25" fill="#fff" stroke="#1f1b17" stroke-width="1.30" stroke-linejoin="round" />
<polygon points="790.00,800.00 943.75,712.50 943.75,717.50 790.00,805.00" fill="#fff" stroke="#1f1b17" stroke-width="1.30" stroke-linejoin="round" />
<polygon points="627.25,711.25 790.00,805.00 790.00,811.00 790.00,811.00 785.21,808.24 785.21,804.94 780.43,802.19 780.43,805.49 775.64,802.73 775.64,799.43 770.85,796.67 770.85,799.97 766.07,797.21 766.07,793.91 761.28,791.16 761.28,794.46 756.49,791.70 756.49,788.40 751.71,785.64 751.71,788.94 746.92,786.18 746.92,782.88 742.13,780.13 742.13,783.43 737.35,780.67 737.35,777.37 732.56,774.61 732.56,777.91 727.77,775.15 727.77,771.85 722.99,769.10 722.99,772.40 718.20,769.64 718.20,766.34 713.41,763.58 713.41,766.88 708.62,764.12 708.62,760.83 703.84,758.07 703.84,761.37 699.05,758.61 699.05,755.31 694.26,752.55 694.26,755.85 689.48,753.10 689.48,749.80 684.69,747.04 684.69,750.34 679.90,747.58 679.90,744.28 675.12,741.52 675.12,744.82 670.33,742.07 670.33,738.77 665.54,736.01 665.54,739.31 660.76,736.55 660.76,733.25 655.97,730.49 655.97,733.79 651.18,731.04 651.18,727.74 646.40,724.98 646.40,728.28 641.61,725.52 641.61,722.22 636.82,719.46 636.82,722.76 632.04,720.01 632.04,716.71 627.25,713.95 627.25,713.95" fill="#8d8d91" stroke="#1f1b17" stroke-width="1.04" stroke-linejoin="round" />
<polygon points="790.00,805.00 943.75,717.50 940.75,720.50 790.00,810.00" fill="#8d8d91" stroke="#1f1b17" stroke-width="1.04" stroke-linejoin="round" />
<ellipse cx="655.50" cy="705.50" rx="8.50" ry="4.50" fill="#fff" stroke="#1f1b17" stroke-width="1.30"/>
<path d="M647.5,706.5 A8,3.6 0 0 1 663.5,706.5" fill="none" stroke="#1f1b17" stroke-width="0.8" stroke-linejoin="round" />
<ellipse cx="790.00" cy="782.50" rx="8.50" ry="4.50" fill="#fff" stroke="#1f1b17" stroke-width="1.30"/>
<path d="M782,783.5 A8,3.6 0 0 1 798,783.5" fill="none" stroke="#1f1b17" stroke-width="0.8" stroke-linejoin="round" />
<ellipse cx="913.75" cy="711.25" rx="8.50" ry="4.50" fill="#fff" stroke="#1f1b17" stroke-width="1.30"/>
<path d="M905.75,712.25 A8,3.6 0 0 1 921.75,712.25" fill="none" stroke="#1f1b17" stroke-width="0.8" stroke-linejoin="round" />
<polygon points="841.25,581.00 861.25,587.50 861.25,700.00 841.25,690.00" fill="#fff" stroke="#1f1b17" stroke-width="1.30" stroke-linejoin="round" />
<polygon points="861.25,587.50 897.50,566.25 897.50,686.25 861.25,700.00" fill="#fff" stroke="#1f1b17" stroke-width="1.30" stroke-linejoin="round" />
<line x1="897.50" y1="686.25" x2="943.75" y2="712.50" stroke="#1f1b17" stroke-width="1.17"/>
<polygon points="841.25,576.25 861.25,582.50 897.50,561.25 881.25,551.25" fill="#fff" stroke="#1f1b17" stroke-width="1.30" stroke-linejoin="round" />
<polygon points="861.25,582.50 897.50,561.25 897.50,566.25 861.25,587.50" fill="#fff" stroke="#1f1b17" stroke-width="1.30" stroke-linejoin="round" />
<polygon points="841.25,576.25 861.25,582.50 861.25,587.50 841.25,581.25" fill="#fff" stroke="#1f1b17" stroke-width="1.30" stroke-linejoin="round" />
<path d="M782.5,701 L782.5,733 A40.5,20 0 0 0 863.5,733 L863.5,701 A40.5,20 0 0 1 782.5,701 Z" fill="#8d8d91" stroke="#1f1b17" stroke-width="1.0" stroke-linejoin="round" />
<ellipse cx="823.00" cy="702.50" rx="35.50" ry="16.00" fill="#fff" stroke="#1f1b17" stroke-width="1.17"/>
<path d="M794,650 A29,10.5 0 0 1 852,650" fill="none" stroke="#1f1b17" stroke-width="0.7" stroke-linejoin="round" />
<path d="M794,664 A29,10.5 0 0 1 852,664" fill="none" stroke="#1f1b17" stroke-width="0.7" stroke-linejoin="round" />
<path d="M794,678 A29,10.5 0 0 1 852,678" fill="none" stroke="#1f1b17" stroke-width="0.7" stroke-linejoin="round" />
<path d="M794,692 A29,10.5 0 0 1 852,692" fill="none" stroke="#1f1b17" stroke-width="0.7" stroke-linejoin="round" />
<path d="M793.0,650 A30.0,15 0 0 0 853.0,650" fill="none" stroke="#1f1b17" stroke-width="12.0" stroke-linejoin="round" stroke-linecap="butt"/>
<circle cx="853.0" cy="650" r="6.0" fill="#1f1b17"/>
<circle cx="793.0" cy="650" r="6.0" fill="#1f1b17"/>
<path d="M793.0,650 A30.0,15 0 0 0 853.0,650" fill="none" stroke="#fff" stroke-width="9.2" stroke-linejoin="round" stroke-linecap="butt"/>
<circle cx="853.0" cy="650" r="4.6" fill="#fff"/>
<circle cx="793.0" cy="650" r="4.6" fill="#fff"/>
<path d="M802,655.25 A21,9.0 0 0 0 846,647.0" fill="none" stroke="#1f1b17" stroke-width="0.6" stroke-linejoin="round" />
<path d="M793.0,664 A30.0,15 0 0 0 853.0,664" fill="none" stroke="#1f1b17" stroke-width="12.0" stroke-linejoin="round" stroke-linecap="butt"/>
<circle cx="853.0" cy="664" r="6.0" fill="#1f1b17"/>
<circle cx="793.0" cy="664" r="6.0" fill="#1f1b17"/>
<path d="M793.0,664 A30.0,15 0 0 0 853.0,664" fill="none" stroke="#fff" stroke-width="9.2" stroke-linejoin="round" stroke-linecap="butt"/>
<circle cx="853.0" cy="664" r="4.6" fill="#fff"/>
<circle cx="793.0" cy="664" r="4.6" fill="#fff"/>
<path d="M802,669.25 A21,9.0 0 0 0 846,661.0" fill="none" stroke="#1f1b17" stroke-width="0.6" stroke-linejoin="round" />
<path d="M793.0,678 A30.0,15 0 0 0 853.0,678" fill="none" stroke="#1f1b17" stroke-width="12.0" stroke-linejoin="round" stroke-linecap="butt"/>
<circle cx="853.0" cy="678" r="6.0" fill="#1f1b17"/>
<circle cx="793.0" cy="678" r="6.0" fill="#1f1b17"/>
<path d="M793.0,678 A30.0,15 0 0 0 853.0,678" fill="none" stroke="#fff" stroke-width="9.2" stroke-linejoin="round" stroke-linecap="butt"/>
<circle cx="853.0" cy="678" r="4.6" fill="#fff"/>
<circle cx="793.0" cy="678" r="4.6" fill="#fff"/>
<path d="M802,683.25 A21,9.0 0 0 0 846,675.0" fill="none" stroke="#1f1b17" stroke-width="0.6" stroke-linejoin="round" />
<path d="M793.0,692 A30.0,15 0 0 0 853.0,692" fill="none" stroke="#1f1b17" stroke-width="12.0" stroke-linejoin="round" stroke-linecap="butt"/>
<circle cx="853.0" cy="692" r="6.0" fill="#1f1b17"/>
<circle cx="793.0" cy="692" r="6.0" fill="#1f1b17"/>
<path d="M793.0,692 A30.0,15 0 0 0 853.0,692" fill="none" stroke="#fff" stroke-width="9.2" stroke-linejoin="round" stroke-linecap="butt"/>
<circle cx="853.0" cy="692" r="4.6" fill="#fff"/>
<circle cx="793.0" cy="692" r="4.6" fill="#fff"/>
<path d="M802,697.25 A21,9.0 0 0 0 846,689.0" fill="none" stroke="#1f1b17" stroke-width="0.6" stroke-linejoin="round" />
<path d="M782.5,707 A40.5,20 0 0 0 863.5,707 L863.5,733 A40.5,20 0 0 1 782.5,733 Z" fill="#8d8d91" stroke="#1f1b17" stroke-width="1.0" stroke-linejoin="round" />
<path d="M782.5,730 A40.5,20 0 0 0 863.5,730" fill="none" stroke="#1f1b17" stroke-width="0.8" stroke-linejoin="round" />
<path d="M773,621 Q767.3,618 773,614.5 L822,586 Q827.5,582.7 833,586 L875.5,612.5 Q881,615.7 881,621 L881,628 Q881,631 876,633.5 L824,660 Q818.4,663 813,660 L767.3,633 L767.3,621 Z" fill="#fff" stroke="#1f1b17" stroke-width="1" stroke-linejoin="round" />
<path d="M767.3,621 Q767.3,624.5 773,627.5 L813,646 Q818.4,649 824,646 L876,619.5 Q881,617 881,621" fill="none" stroke="#1f1b17" stroke-width="1" stroke-linejoin="round" />
<line x1="818.40" y1="648.00" x2="818.40" y2="662.00" stroke="#1f1b17" stroke-width="1.30"/>
<polygon points="745.00,652.50 782.50,633.75 782.50,752.50 745.00,772.50" fill="#fff" stroke="#1f1b17" stroke-width="1.30" stroke-linejoin="round" />
<line x1="745.00" y1="652.50" x2="745.00" y2="772.50" stroke="#1f1b17" stroke-width="2.08"/>
<polygon points="752.50,650.00 776.25,637.50 776.25,691.25 752.50,703.75" fill="#fff" stroke="#1f1b17" stroke-width="1.17" stroke-linejoin="round" />
<line x1="671.25" y1="611.00" x2="671.25" y2="731.25" stroke="#1f1b17" stroke-width="1.56"/>
<line x1="677.50" y1="614.00" x2="677.50" y2="730.00" stroke="#1f1b17" stroke-width="1.17"/>
<line x1="705.00" y1="640.00" x2="705.00" y2="721.00" stroke="#1f1b17" stroke-width="1.17"/>
<line x1="717.50" y1="640.00" x2="717.50" y2="719.00" stroke="#1f1b17" stroke-width="1.17"/>
<line x1="741.25" y1="650.00" x2="741.25" y2="730.00" stroke="#1f1b17" stroke-width="1.17"/>
<polyline points="677.50,730.00 705.00,721.00 717.50,718.75 741.25,730.00" fill="none" stroke="#1f1b17" stroke-width="1.17" stroke-linejoin="round" />
<line x1="626.25" y1="706.25" x2="670.00" y2="681.00" stroke="#1f1b17" stroke-width="1.17"/>
<path d="M698.5,631 A14.5,6.5 0 0 0 727.5,633 Z" fill="#8e8e92" stroke="#1f1b17" stroke-width="1.2" stroke-linejoin="round" />
<polygon points="707.50,642.00 713.00,639.00 729.00,639.00 735.00,642.00 735.00,656.00 729.00,659.00 713.00,659.00 707.50,656.00" fill="#fff" stroke="#1f1b17" stroke-width="1.17" stroke-linejoin="round" />
<line x1="713.00" y1="639.00" x2="713.00" y2="659.00" stroke="#1f1b17" stroke-width="1.04"/>
<line x1="729.00" y1="639.00" x2="729.00" y2="659.00" stroke="#1f1b17" stroke-width="1.04"/>
<polygon points="713.00,658.00 731.00,658.00 731.00,664.00 722.00,666.00 713.00,664.00" fill="#fff" stroke="#1f1b17" stroke-width="1.04" stroke-linejoin="round" />
<polygon points="671.25,605.00 745.00,647.50 782.50,627.50 708.75,585.00" fill="#fff" stroke="#1f1b17" stroke-width="1.30" stroke-linejoin="round" />
<polygon points="671.25,605.00 745.00,647.50 745.00,653.50 671.25,611.00" fill="#fff" stroke="#1f1b17" stroke-width="1.30" stroke-linejoin="round" />
<polygon points="745.00,647.50 782.50,627.50 782.50,633.50 745.00,653.50" fill="#fff" stroke="#1f1b17" stroke-width="1.30" stroke-linejoin="round" />
<polygon points="716.00,590.00 731.00,590.00 731.00,614.00 716.00,614.00" fill="#fff" stroke="#1f1b17" stroke-width="1.17" stroke-linejoin="round" />
<ellipse cx="723.75" cy="619.00" rx="17.00" ry="8.00" fill="#8e8e92" stroke="#1f1b17" stroke-width="1.69"/>
<ellipse cx="723.75" cy="617.50" rx="17.00" ry="8.00" fill="#8e8e92" stroke="#1f1b17" stroke-width="1.30"/>
<ellipse cx="723.75" cy="615.50" rx="9.50" ry="4.50" fill="#fff" stroke="#1f1b17" stroke-width="1.17"/>
<polygon points="716.00,600.00 731.00,600.00 731.00,615.00 723.50,617.00 716.00,615.00" fill="#fff" stroke="#1f1b17" stroke-width="1.17" stroke-linejoin="round" />
<line x1="702.00" y1="592.00" x2="702.00" y2="606.00" stroke="#1f1b17" stroke-width="1.56"/>
<line x1="743.00" y1="607.00" x2="743.00" y2="631.00" stroke="#1f1b17" stroke-width="2.08"/>
<polygon points="661.25,566.25 755.00,618.75 907.50,530.50 814.50,477.00" fill="#fff" stroke="#1f1b17" stroke-width="1.30" stroke-linejoin="round" />
<polygon points="661.25,566.25 755.00,618.75 755.00,624.25 661.25,571.75" fill="#fff" stroke="#1f1b17" stroke-width="1.30" stroke-linejoin="round" />
<polygon points="755.00,618.75 907.50,530.50 907.50,536.00 755.00,624.25" fill="#fff" stroke="#1f1b17" stroke-width="1.30" stroke-linejoin="round" />
<ellipse cx="784.40" cy="549.00" rx="16.50" ry="9.00" fill="#fff" stroke="#1f1b17" stroke-width="1.30"/>
<ellipse cx="784.40" cy="546.50" rx="16.50" ry="9.00" fill="#fff" stroke="#1f1b17" stroke-width="1.30"/>
<ellipse cx="784.40" cy="546.00" rx="11.88" ry="5.58" fill="#fff" stroke="#1f1b17" stroke-width="0.91"/>
<polygon points="772.55,527.29 778.48,523.50 790.32,523.50 796.25,527.29 796.25,545.21 790.32,549.00 778.48,549.00 772.55,545.21" fill="#fff" stroke="#1f1b17" stroke-width="1.30" stroke-linejoin="round" />
<polyline points="772.55,527.29 778.48,531.08 790.32,531.08 796.25,527.29" fill="none" stroke="#1f1b17" stroke-width="1.17" stroke-linejoin="round" />
<line x1="778.48" y1="531.08" x2="778.48" y2="549.00" stroke="#1f1b17" stroke-width="1.17"/>
<line x1="790.32" y1="531.08" x2="790.32" y2="549.00" stroke="#1f1b17" stroke-width="1.17"/>
<polyline points="772.55,537.52 778.48,541.32 790.32,541.32 796.25,537.52" fill="none" stroke="#1f1b17" stroke-width="1.17" stroke-linejoin="round" />
<line x1="615.00" y1="537.50" x2="655.00" y2="560.50" stroke="#1f1b17" stroke-width="1.17"/>
<line x1="767.50" y1="450.00" x2="807.50" y2="472.50" stroke="#1f1b17" stroke-width="1.17"/>
<line x1="637.81" y1="539.28" x2="692.48" y2="508.05" stroke="#1f1b17" stroke-width="1.17"/>
<line x1="716.27" y1="494.45" x2="770.94" y2="463.22" stroke="#1f1b17" stroke-width="1.17"/>
<polygon points="630.00,543.75 638.71,540.85 636.92,537.72" fill="#1f1b17" stroke="#1f1b17" stroke-width="0.52" stroke-linejoin="round" />
<polygon points="778.75,458.75 771.83,464.78 770.04,461.65" fill="#1f1b17" stroke="#1f1b17" stroke-width="0.52" stroke-linejoin="round" />
<text x="0" y="0" font-size="24" text-anchor="middle" font-family="'Liberation Sans', sans-serif" fill="#111" stroke="#fff" stroke-width="0" transform="translate(707,509) rotate(-29.7)">L1</text>
<line x1="821.25" y1="472.50" x2="857.50" y2="451.25" stroke="#1f1b17" stroke-width="1.17"/>
<line x1="915.00" y1="526.25" x2="951.25" y2="505.00" stroke="#1f1b17" stroke-width="1.17"/>
<line x1="855.31" y1="465.72" x2="876.38" y2="477.75" stroke="#1f1b17" stroke-width="1.17"/>
<line x1="905.25" y1="494.25" x2="927.19" y2="506.78" stroke="#1f1b17" stroke-width="1.17"/>
<polygon points="847.50,461.25 854.42,467.28 856.21,464.15" fill="#1f1b17" stroke="#1f1b17" stroke-width="0.52" stroke-linejoin="round" />
<polygon points="935.00,511.25 926.29,508.35 928.08,505.22" fill="#1f1b17" stroke="#1f1b17" stroke-width="0.52" stroke-linejoin="round" />
<text x="0" y="0" font-size="24" text-anchor="middle" font-family="'Liberation Sans', sans-serif" fill="#111" stroke="#fff" stroke-width="0" transform="translate(886,492) rotate(29.7)">W1</text>
<line x1="915.00" y1="534.50" x2="1015.00" y2="592.00" stroke="#1f1b17" stroke-width="1.17"/>
<line x1="935.00" y1="718.75" x2="1015.00" y2="763.75" stroke="#1f1b17" stroke-width="1.17"/>
<line x1="1002.50" y1="597.50" x2="1002.50" y2="655.66" stroke="#1f1b17" stroke-width="1.62"/>
<line x1="1002.50" y1="683.92" x2="1002.50" y2="743.75" stroke="#1f1b17" stroke-width="1.62"/>
<polygon points="1002.50,587.50 1000.50,597.50 1004.50,597.50" fill="#1f1b17" stroke="#1f1b17" stroke-width="0.52" stroke-linejoin="round" />
<polygon points="1002.50,753.75 1000.50,743.75 1004.50,743.75" fill="#1f1b17" stroke="#1f1b17" stroke-width="0.52" stroke-linejoin="round" />
<text x="0" y="0" font-size="24" text-anchor="middle" font-family="'Liberation Sans', sans-serif" fill="#111" stroke="#fff" stroke-width="0" transform="translate(1011,670) rotate(-90)">H</text>
<line x1="950.00" y1="726.25" x2="973.75" y2="746.25" stroke="#1f1b17" stroke-width="1.17"/>
<line x1="796.25" y1="785.00" x2="851.25" y2="817.50" stroke="#1f1b17" stroke-width="1.17"/>
<line x1="849.09" y1="803.08" x2="890.60" y2="779.67" stroke="#1f1b17" stroke-width="1.17"/>
<line x1="914.10" y1="766.42" x2="950.91" y2="745.67" stroke="#1f1b17" stroke-width="1.17"/>
<polygon points="841.25,807.50 849.97,804.65 848.21,801.51" fill="#1f1b17" stroke="#1f1b17" stroke-width="0.52" stroke-linejoin="round" />
<polygon points="958.75,741.25 951.79,747.24 950.03,744.10" fill="#1f1b17" stroke="#1f1b17" stroke-width="0.52" stroke-linejoin="round" />
<text x="0" y="0" font-size="24" text-anchor="middle" font-family="'Liberation Sans', sans-serif" fill="#111" stroke="#fff" stroke-width="0" transform="translate(903.5,782.5) rotate(-29.5)">A</text>
<line x1="790.00" y1="805.00" x2="842.50" y2="840.00" stroke="#1f1b17" stroke-width="1.17"/>
<line x1="867.80" y1="833.00" x2="915.50" y2="805.50" stroke="#1f1b17" stroke-width="1.17"/>
<line x1="946.02" y1="787.90" x2="990.95" y2="762.00" stroke="#1f1b17" stroke-width="1.17"/>
<polygon points="860.00,837.50 868.70,834.56 866.90,831.45" fill="#1f1b17" stroke="#1f1b17" stroke-width="0.52" stroke-linejoin="round" />
<polygon points="998.75,757.50 991.85,763.55 990.05,760.44" fill="#1f1b17" stroke="#1f1b17" stroke-width="0.52" stroke-linejoin="round" />
<text x="0" y="0" font-size="24" text-anchor="middle" font-family="'Liberation Sans', sans-serif" fill="#111" stroke="#fff" stroke-width="0" transform="translate(928.5,806) rotate(-30)">L</text>
<line x1="591.25" y1="742.50" x2="650.00" y2="710.00" stroke="#1f1b17" stroke-width="1.17"/>
<line x1="726.25" y1="818.75" x2="790.00" y2="785.00" stroke="#1f1b17" stroke-width="1.17"/>
<line x1="614.10" y1="740.66" x2="661.38" y2="767.23" stroke="#1f1b17" stroke-width="1.17"/>
<line x1="685.00" y1="780.50" x2="729.65" y2="805.59" stroke="#1f1b17" stroke-width="1.17"/>
<polygon points="606.25,736.25 613.21,742.23 614.98,739.09" fill="#1f1b17" stroke="#1f1b17" stroke-width="0.52" stroke-linejoin="round" />
<polygon points="737.50,810.00 728.77,807.16 730.54,804.02" fill="#1f1b17" stroke="#1f1b17" stroke-width="0.52" stroke-linejoin="round" />
<text x="0" y="0" font-size="24" text-anchor="middle" font-family="'Liberation Sans', sans-serif" fill="#111" stroke="#fff" stroke-width="0" transform="translate(666,780) rotate(29.5)">B</text>
<line x1="555.00" y1="756.25" x2="620.00" y2="719.50" stroke="#1f1b17" stroke-width="1.17"/>
<line x1="718.75" y1="850.00" x2="783.75" y2="813.75" stroke="#1f1b17" stroke-width="1.17"/>
<line x1="577.83" y1="754.43" x2="639.34" y2="789.24" stroke="#1f1b17" stroke-width="1.17"/>
<line x1="669.98" y1="806.58" x2="723.42" y2="836.82" stroke="#1f1b17" stroke-width="1.17"/>
<polygon points="570.00,750.00 576.95,756.00 578.72,752.87" fill="#1f1b17" stroke="#1f1b17" stroke-width="0.52" stroke-linejoin="round" />
<polygon points="731.25,841.25 722.53,838.38 724.30,835.25" fill="#1f1b17" stroke="#1f1b17" stroke-width="0.52" stroke-linejoin="round" />
<text x="0" y="0" font-size="24" text-anchor="middle" font-family="'Liberation Sans', sans-serif" fill="#111" stroke="#fff" stroke-width="0" transform="translate(647,805) rotate(29.5)">W</text>
<ellipse cx="526.80" cy="652.60" rx="6.70" ry="6.50" fill="none" stroke="#111" stroke-width="1.82"/>
<line x1="520.10" y1="658.40" x2="534.00" y2="646.30" stroke="#111" stroke-width="1.82"/>
<text x="536" y="661.25" font-size="24.5" text-anchor="start" font-family="'Liberation Sans', sans-serif" fill="#111" stroke="#fff" stroke-width="0" textLength="32" lengthAdjust="spacingAndGlyphs">BD</text>
<polyline points="571.25,652.00 592.50,652.00" fill="none" stroke="#1f1b17" stroke-width="1.30" stroke-linejoin="round" />
<line x1="592.50" y1="652.00" x2="638.79" y2="693.34" stroke="#1f1b17" stroke-width="1.30"/>
<polygon points="646.25,700.00 637.59,694.68 639.99,692.00" fill="#1f1b17" stroke="#1f1b17" stroke-width="0.65" stroke-linejoin="round" />
<g fill="none" stroke="#dedede" stroke-width="0.9" transform="translate(418,158) scale(0.98)" style="mix-blend-mode:multiply">
<path d="M0,0 H266 M0,85 H266"/>
<circle cx="140" cy="44" r="70"/>
<path d="M4,10 V78 H86 V10 Z M14,22 H76 M14,40 H76 M14,58 H76 M32,12 V76 M58,12 V76"/>
<path d="M96,12 V80 M112,12 V80 M96,12 H112 M124,30 V78 M150,30 V78 M124,30 Q137,12 150,30 M160,14 V80 M176,14 V80 M160,14 H176 M124,78 H150"/>
<path d="M190,8 H262 M198,20 L226,20 L214,44 M236,20 H258 L244,44 M196,46 H260 M202,56 V80 M254,56 V80 M202,80 H254 M228,56 V80 M210,66 H246"/>
<circle cx="266" cy="-33" r="9"/>
</g>
<g fill="#dedede" font-family="'Liberation Sans', sans-serif" font-size="14.7" style="mix-blend-mode:multiply">
<text x="429.76" y="259.92" text-anchor="middle">上</text>
<text x="473.86" y="259.92" text-anchor="middle">海</text>
<text x="616.94" y="259.92" text-anchor="middle">松</text>
<text x="664.96" y="259.92" text-anchor="middle">江</text>
<text x="678.6800000000001" y="130.07" text-anchor="middle" font-size="11.76">R</text>
</g>
<g fill="none" stroke="#dedede" stroke-width="0.9" transform="translate(143,595) scale(1.0)" style="mix-blend-mode:multiply">
<path d="M0,0 H266 M0,85 H266"/>
<circle cx="140" cy="44" r="70"/>
<path d="M4,10 V78 H86 V10 Z M14,22 H76 M14,40 H76 M14,58 H76 M32,12 V76 M58,12 V76"/>
<path d="M96,12 V80 M112,12 V80 M96,12 H112 M124,30 V78 M150,30 V78 M124,30 Q137,12 150,30 M160,14 V80 M176,14 V80 M160,14 H176 M124,78 H150"/>
<path d="M190,8 H262 M198,20 L226,20 L214,44 M236,20 H258 L244,44 M196,46 H260 M202,56 V80 M254,56 V80 M202,80 H254 M228,56 V80 M210,66 H246"/>
<circle cx="257" cy="-23" r="9"/>
</g>
<g fill="#dedede" font-family="'Liberation Sans', sans-serif" font-size="15.0" style="mix-blend-mode:multiply">
<text x="155.0" y="699.0" text-anchor="middle">上</text>
<text x="200.0" y="699.0" text-anchor="middle">海</text>
<text x="346.0" y="699.0" text-anchor="middle">松</text>
<text x="395.0" y="699.0" text-anchor="middle">江</text>
<text x="400.0" y="576.5" text-anchor="middle" font-size="12.0">R</text>
</g>
<g fill="none" stroke="#dedede" stroke-width="0.9" transform="translate(677,622) scale(1.0)" style="mix-blend-mode:multiply">
<path d="M0,0 H266 M0,85 H266"/>
<circle cx="140" cy="44" r="70"/>
<path d="M4,10 V78 H86 V10 Z M14,22 H76 M14,40 H76 M14,58 H76 M32,12 V76 M58,12 V76"/>
<path d="M96,12 V80 M112,12 V80 M96,12 H112 M124,30 V78 M150,30 V78 M124,30 Q137,12 150,30 M160,14 V80 M176,14 V80 M160,14 H176 M124,78 H150"/>
<path d="M190,8 H262 M198,20 L226,20 L214,44 M236,20 H258 L244,44 M196,46 H260 M202,56 V80 M254,56 V80 M202,80 H254 M228,56 V80 M210,66 H246"/>
<circle cx="257" cy="-23" r="9"/>
</g>
<g fill="#dedede" font-family="'Liberation Sans', sans-serif" font-size="15.0" style="mix-blend-mode:multiply">
<text x="689.0" y="726.0" text-anchor="middle">上</text>
<text x="734.0" y="726.0" text-anchor="middle">海</text>
<text x="880.0" y="726.0" text-anchor="middle">松</text>
<text x="929.0" y="726.0" text-anchor="middle">江</text>
<text x="934.0" y="603.5" text-anchor="middle" font-size="12.0">R</text>
</g>
</svg></body></html>
